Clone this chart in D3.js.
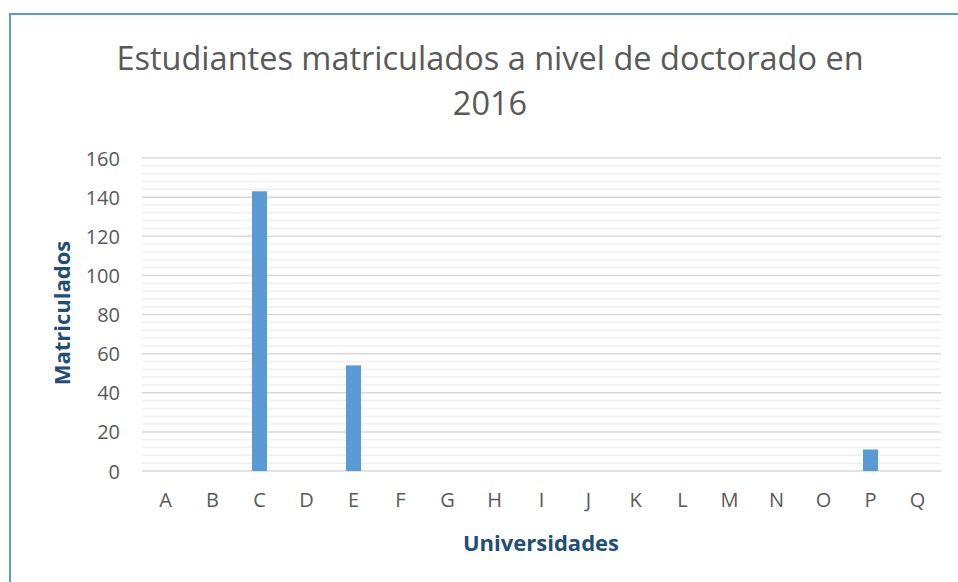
<!DOCTYPE html>
<meta charset="utf-8">
<style>
    body { margin: 0; background: #fff; }
    text { font-family: "Open Sans", "Noto Sans", sans-serif; }
    .tick text { fill: #595959; font-size: 20px; }
    .axis-title { fill: #1f4e79; font-weight: bold; font-size: 22px; }
</style>
<svg width="958" height="582"></svg>
<script src="https://cdn.jsdelivr.net/npm/d3@7/dist/d3.min.js"></script>
<script>

    var universidades = ["A", "B", "C", "D", "E", "F", "G", "H", "I", "J", "K", "L", "M", "N", "O", "P", "Q"];
    var matriculados = [0, 0, 143, 0, 54, 0, 0, 0, 0, 0, 0, 0, 0, 0, 0, 11, 0];
    var yTicks = [0, 20, 40, 60, 80, 100, 120, 140, 160];

    var svg = d3.select("svg");

    // outer chart border (runs off the right and bottom of the picture)
    svg.append("path")
        .attr("d", "M10,600 V14 H970")
        .attr("fill", "none")
        .attr("stroke", "#5b9bd5")
        .attr("stroke-width", 2);

    var plotLeft = 142, plotRight = 941, plotTop = 158, plotBottom = 471;

    var x = d3.scaleBand()
        .domain(universidades)
        .range([plotLeft, plotRight])
        .paddingInner(0.68)
        .paddingOuter(0.34);

    var y = d3.scaleLinear()
        .domain([0, 160])
        .range([plotBottom, plotTop]);

    // minor gridlines
    svg.append("g")
        .selectAll("line")
        .data(d3.range(0, 161, 4).filter(function (d) { return d % 20 != 0; }))
        .enter().append("line")
        .attr("x1", plotLeft).attr("x2", plotRight)
        .attr("y1", function (d) { return y(d); })
        .attr("y2", function (d) { return y(d); })
        .attr("stroke", "#f0f0f0")
        .attr("stroke-width", 1.5);

    // major gridlines
    svg.append("g")
        .selectAll("line")
        .data(yTicks)
        .enter().append("line")
        .attr("x1", plotLeft).attr("x2", plotRight)
        .attr("y1", function (d) { return y(d); })
        .attr("y2", function (d) { return y(d); })
        .attr("stroke", "#d9d9d9")
        .attr("stroke-width", 1.5);

    svg.append("g")
        .selectAll("rect")
        .data(universidades)
        .enter().append("rect")
        .attr("x", function (d) { return x(d); })
        .attr("width", x.bandwidth())
        .attr("y", function (d, i) { return y(matriculados[i]); })
        .attr("height", function (d, i) { return y(0) - y(matriculados[i]); })
        .attr("fill", "#5b9bd5");

    var yAxis = svg.append("g")
        .attr("transform", "translate(" + (plotLeft - 22) + ",0)")
        .call(d3.axisLeft(y).tickValues(yTicks).tickSize(0).tickPadding(0));
    yAxis.select(".domain").remove();
    yAxis.selectAll(".tick text").attr("dy", "0.35em");

    var xAxis = svg.append("g")
        .attr("transform", "translate(0," + (plotBottom + 22) + ")")
        .call(d3.axisBottom(x).tickSize(0).tickPadding(0));
    xAxis.select(".domain").remove();
    xAxis.selectAll(".tick text").attr("dy", "0.72em");

    svg.append("text")
        .attr("x", 490).attr("y", 70)
        .attr("text-anchor", "middle")
        .attr("fill", "#595959")
        .attr("font-size", 32.5)
        .text("Estudiantes matriculados a nivel de doctorado en");

    svg.append("text")
        .attr("x", 490).attr("y", 115)
        .attr("text-anchor", "middle")
        .attr("fill", "#595959")
        .attr("font-size", 32.5)
        .text("2016");

    svg.append("text")
        .attr("class", "axis-title")
        .attr("x", 541).attr("y", 551)
        .attr("text-anchor", "middle")
        .text("Universidades");

    svg.append("text")
        .attr("class", "axis-title")
        .attr("transform", "translate(70,313) rotate(-90)")
        .attr("text-anchor", "middle")
        .text("Matriculados");

</script>
